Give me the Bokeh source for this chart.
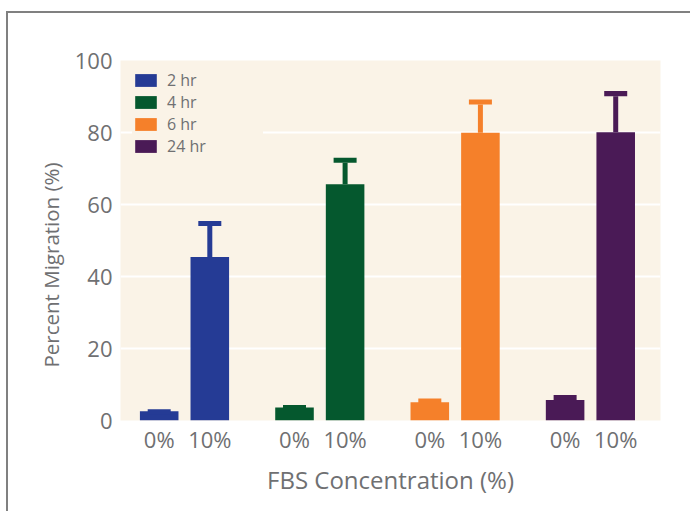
from bokeh.plotting import figure
from bokeh.models import (FixedTicker, CustomJSTickFormatter, Legend, LegendItem,
                          Range1d, Title)
from bokeh.embed import file_html
from bokeh.resources import INLINE

# ---- data ----
groups = ["2 hr", "4 hr", "6 hr", "24 hr"]
conc_labels = ["0%", "10%"]
mean_0 = [2.6, 3.6, 5.1, 5.7]
mean_10 = [45.4, 65.6, 79.9, 80.1]
err_0 = [0.5, 0.7, 1.0, 1.4]
err_10 = [10.0, 7.4, 9.3, 11.4]
y_ticks = [0, 20, 40, 60, 80, 100]
grid_ticks = [20, 40, 60, 80]
colors = ["#253b95", "#05582e", "#f5802a", "#4a1a56"]
x_title = "FBS Concentration (%)"
y_title = "Percent Migration (%)"

# ---- style constants ----
OFFSET = 0.187
BAR_W = 0.285
CAP_W = 0.17
CAP_H = 1.4
TEXT = "#6f7072"
FONT = "Open Sans"

p = figure(width=684, height=500, output_backend="svg", toolbar_location=None,
           x_range=Range1d(-0.473, 3.518), y_range=Range1d(0, 100),
           min_border_left=112, min_border_right=32, min_border_top=47,
           min_border_bottom=93)
p.styles = {"box-shadow": "-2px -2px 0px 0px #808080",
            "margin-top": "13px", "margin-left": "8px"}
p.background_fill_color = "#faf3e7"
p.border_fill_color = "white"
p.outline_line_color = None

items = []
for i, g in enumerate(groups):
    xs = [i - OFFSET, i + OFFSET]
    tops = [mean_0[i], mean_10[i]]
    uppers = [mean_0[i] + err_0[i], mean_10[i] + err_10[i]]
    r = p.vbar(x=xs, top=tops, bottom=0, width=BAR_W, fill_color=colors[i],
               line_color=None)
    p.segment(x0=xs, y0=tops, x1=xs, y1=[u - CAP_H for u in uppers],
              line_color=colors[i], line_width=5)
    p.vbar(x=xs, top=uppers, bottom=[u - CAP_H for u in uppers], width=CAP_W,
           fill_color=colors[i], line_color=None)
    items.append(LegendItem(label=g, renderers=[r]))

tick_pos = [i + s * OFFSET for i in range(len(groups)) for s in (-1, 1)]
tick_labels = conc_labels * len(groups)
p.xaxis.ticker = FixedTicker(ticks=tick_pos)
p.xaxis.formatter = CustomJSTickFormatter(args=dict(labels=tick_labels),
                                          code="return labels[index];")
p.yaxis.ticker = FixedTicker(ticks=y_ticks)

p.xgrid.visible = False
p.ygrid.ticker = FixedTicker(ticks=grid_ticks)
p.ygrid.grid_line_color = "white"
p.ygrid.grid_line_width = 2

for ax in (p.xaxis[0], p.yaxis[0]):
    ax.axis_line_color = None
    ax.major_tick_line_color = None
    ax.minor_tick_line_color = None
    ax.major_tick_out = 0
    ax.major_tick_in = 0
    ax.minor_tick_out = 0
    ax.major_label_text_color = TEXT
    ax.major_label_text_font = FONT
    ax.major_label_text_font_size = "22px"
    ax.axis_label_text_color = TEXT
    ax.axis_label_text_font = FONT
    ax.axis_label_text_font_style = "normal"

p.xaxis.axis_label = x_title
p.xaxis.axis_label_text_font_size = "24px"
p.xaxis.major_label_standoff = 3
p.yaxis.major_label_standoff = 8
p.xaxis.axis_label_standoff = 6

ytitle = Title(text=y_title, align="left", offset=53, standoff=13,
               text_font=FONT, text_font_size="20.5px", text_font_style="normal",
               text_color=TEXT)
p.add_layout(ytitle, "left")

legend = Legend(items=items, location=(12, 263), margin=0, padding=0,
                spacing=0, glyph_width=27, glyph_height=16, label_height=20,
                label_standoff=8, label_width=96,
                label_text_font=FONT, label_text_font_size="16px",
                label_text_color=TEXT,
                background_fill_color="#faf3e7", background_fill_alpha=1.0,
                border_line_color=None)
p.add_layout(legend)

open("out.html", "w").write(file_html(p, INLINE))
